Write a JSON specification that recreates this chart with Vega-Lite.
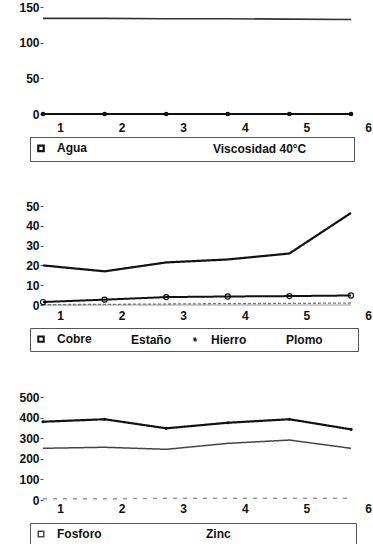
{
  "$schema": "https://vega.github.io/schema/vega-lite/v6.json",
  "background": "white",
  "padding": {"top": 1, "left": 18, "right": 0, "bottom": 0},
  "datasets": {
    "p1": [
      {"muestra": 1, "serie": "Agua", "valor": 0},
      {"muestra": 2, "serie": "Agua", "valor": 0},
      {"muestra": 3, "serie": "Agua", "valor": 0},
      {"muestra": 4, "serie": "Agua", "valor": 0},
      {"muestra": 5, "serie": "Agua", "valor": 0},
      {"muestra": 6, "serie": "Agua", "valor": 0},
      {"muestra": 1, "serie": "Viscosidad 40°C", "valor": 134},
      {"muestra": 2, "serie": "Viscosidad 40°C", "valor": 134},
      {"muestra": 3, "serie": "Viscosidad 40°C", "valor": 133.5},
      {"muestra": 4, "serie": "Viscosidad 40°C", "valor": 133.5},
      {"muestra": 5, "serie": "Viscosidad 40°C", "valor": 133},
      {"muestra": 6, "serie": "Viscosidad 40°C", "valor": 132.5}
    ],
    "p2": [
      {"muestra": 1, "serie": "Cobre", "valor": 1.5},
      {"muestra": 2, "serie": "Cobre", "valor": 2.7},
      {"muestra": 3, "serie": "Cobre", "valor": 4.0},
      {"muestra": 4, "serie": "Cobre", "valor": 4.3},
      {"muestra": 5, "serie": "Cobre", "valor": 4.5},
      {"muestra": 6, "serie": "Cobre", "valor": 4.8},
      {"muestra": 1, "serie": "Estaño", "valor": 0},
      {"muestra": 2, "serie": "Estaño", "valor": 0},
      {"muestra": 3, "serie": "Estaño", "valor": 0},
      {"muestra": 4, "serie": "Estaño", "valor": 0},
      {"muestra": 5, "serie": "Estaño", "valor": 0},
      {"muestra": 6, "serie": "Estaño", "valor": 0},
      {"muestra": 1, "serie": "Hierro", "valor": 0.2},
      {"muestra": 2, "serie": "Hierro", "valor": 0.3},
      {"muestra": 3, "serie": "Hierro", "valor": 0.5},
      {"muestra": 4, "serie": "Hierro", "valor": 0.7},
      {"muestra": 5, "serie": "Hierro", "valor": 0.8},
      {"muestra": 6, "serie": "Hierro", "valor": 1.0},
      {"muestra": 1, "serie": "Plomo", "valor": 20},
      {"muestra": 2, "serie": "Plomo", "valor": 17},
      {"muestra": 3, "serie": "Plomo", "valor": 21.5},
      {"muestra": 4, "serie": "Plomo", "valor": 23},
      {"muestra": 5, "serie": "Plomo", "valor": 26},
      {"muestra": 6, "serie": "Plomo", "valor": 46.5}
    ],
    "p3": [
      {"muestra": 1, "serie": "Zinc", "valor": 380},
      {"muestra": 2, "serie": "Zinc", "valor": 392},
      {"muestra": 3, "serie": "Zinc", "valor": 348},
      {"muestra": 4, "serie": "Zinc", "valor": 375},
      {"muestra": 5, "serie": "Zinc", "valor": 392},
      {"muestra": 6, "serie": "Zinc", "valor": 343},
      {"muestra": 1, "serie": "Fosforo", "valor": 251},
      {"muestra": 2, "serie": "Fosforo", "valor": 256},
      {"muestra": 3, "serie": "Fosforo", "valor": 246},
      {"muestra": 4, "serie": "Fosforo", "valor": 275},
      {"muestra": 5, "serie": "Fosforo", "valor": 291},
      {"muestra": 6, "serie": "Fosforo", "valor": 251},
      {"muestra": 1, "serie": "Otros", "valor": 6},
      {"muestra": 2, "serie": "Otros", "valor": 6},
      {"muestra": 3, "serie": "Otros", "valor": 8},
      {"muestra": 4, "serie": "Otros", "valor": 8},
      {"muestra": 5, "serie": "Otros", "valor": 8},
      {"muestra": 6, "serie": "Otros", "valor": 8}
    ]
  },
  "spacing": 92,
  "bounds": "flush",
  "resolve": {
    "scale": {"x": "independent", "y": "independent", "color": "independent", "strokeWidth": "independent", "strokeDash": "independent"},
    "legend": {"color": "independent"}
  },
  "vconcat": [
    {
      "width": 308,
      "height": 107,
      "data": {"name": "p1"},
      "encoding": {
        "x": {"field": "muestra", "type": "quantitative", "scale": {"domain": [1, 6], "nice": false, "zero": false}, "axis": {"values": [1, 2, 3, 4, 5, 6], "format": "d", "labelPadding": 8}},
        "y": {"field": "valor", "type": "quantitative", "scale": {"domain": [0, 150], "nice": false}, "axis": {"values": [0, 50, 100, 150]}}
      },
      "layer": [
        {
          "mark": {"type": "line"},
          "encoding": {
            "color": {"field": "serie", "type": "nominal", "scale": {"domain": ["Agua", "Viscosidad 40°C"], "range": ["#111111", "#333333"]},
              "legend": {"orient": "none", "legendX": -13, "legendY": 130, "direction": "horizontal", "columnPadding": 104, "gridAlign": "each",
                "title": ".", "titleOrient": "right", "titleOpacity": 0, "titlePadding": 39,
                "encode": {"symbols": {"update": {"opacity": {"signal": "datum.value === 'Agua' ? 1 : 0"}}}}}},
            "strokeWidth": {"field": "serie", "type": "nominal", "scale": {"type": "ordinal", "domain": ["Agua", "Viscosidad 40°C"], "range": [2.2, 1.6]}, "legend": null}
          }
        },
        {
          "transform": [{"filter": "datum.serie === 'Agua'"}],
          "mark": {"type": "point", "filled": true, "size": 22, "opacity": 1, "color": "#111111"}
        }
      ]
    },
    {
      "width": 308,
      "height": 99,
      "data": {"name": "p2"},
      "encoding": {
        "x": {"field": "muestra", "type": "quantitative", "scale": {"domain": [1, 6], "nice": false, "zero": false}, "axis": {"values": [1, 2, 3, 4, 5, 6], "format": "d", "labelPadding": 5}},
        "y": {"field": "valor", "type": "quantitative", "scale": {"domain": [0, 50], "nice": false}, "axis": {"values": [0, 10, 20, 30, 40, 50]}}
      },
      "layer": [
        {
          "mark": {"type": "line"},
          "encoding": {
            "color": {"field": "serie", "type": "nominal", "scale": {"domain": ["Cobre", "Estaño", "Hierro", "Plomo"], "range": ["#111111", "#999999", "#777777", "#111111"]},
              "legend": {"orient": "none", "legendX": -13, "legendY": 122, "direction": "horizontal", "columnPadding": 17, "gridAlign": "each",
                "title": ".", "titleOrient": "right", "titleOpacity": 0, "titlePadding": 26,
                "encode": {"symbols": {"update": {
                  "opacity": {"signal": "datum.value === 'Cobre' || datum.value === 'Hierro' ? 1 : 0"},
                  "shape": {"signal": "datum.value === 'Hierro' ? 'circle' : 'square'"},
                  "fill": {"signal": "datum.value === 'Hierro' ? '#111111' : 'transparent'"},
                  "stroke": {"value": "#111111"},
                  "size": {"signal": "datum.value === 'Hierro' ? 12 : 30"}
                }}}}},
            "strokeWidth": {"field": "serie", "type": "nominal", "scale": {"type": "ordinal", "domain": ["Cobre", "Estaño", "Hierro", "Plomo"], "range": [2, 1, 1.3, 2.2]}, "legend": null},
            "strokeDash": {"field": "serie", "type": "nominal", "scale": {"domain": ["Cobre", "Estaño", "Hierro", "Plomo"], "range": [[1, 0], [1, 0], [3, 2], [1, 0]]}, "legend": null}
          }
        },
        {
          "transform": [{"filter": "datum.serie === 'Cobre'"}],
          "mark": {"type": "point", "filled": false, "size": 26, "strokeWidth": 1.2, "opacity": 1, "color": "#111111"}
        }
      ]
    },
    {
      "width": 308,
      "height": 103,
      "data": {"name": "p3"},
      "encoding": {
        "x": {"field": "muestra", "type": "quantitative", "scale": {"domain": [1, 6], "nice": false, "zero": false}, "axis": {"values": [1, 2, 3, 4, 5, 6], "format": "d", "labelPadding": 3}},
        "y": {"field": "valor", "type": "quantitative", "scale": {"domain": [0, 500], "nice": false}, "axis": {"values": [0, 100, 200, 300, 400, 500]}}
      },
      "layer": [
        {
          "mark": {"type": "line"},
          "encoding": {
            "color": {"field": "serie", "type": "nominal", "scale": {"domain": ["Fosforo", "Zinc", "Otros"], "range": ["#444444", "#111111", "#999999"]},
              "legend": {"orient": "none", "legendX": -13, "legendY": 126, "direction": "horizontal", "columnPadding": 82, "gridAlign": "each", "values": ["Fosforo", "Zinc"],
                "title": ".", "titleOrient": "right", "titleOpacity": 0, "titlePadding": 116,
                "encode": {"symbols": {"update": {"opacity": {"signal": "datum.value === 'Fosforo' ? 1 : 0"}}}}}},
            "strokeWidth": {"field": "serie", "type": "nominal", "scale": {"type": "ordinal", "domain": ["Fosforo", "Zinc", "Otros"], "range": [1.5, 2.2, 1.5]}, "legend": null},
            "strokeDash": {"field": "serie", "type": "nominal", "scale": {"domain": ["Fosforo", "Zinc", "Otros"], "range": [[1, 0], [1, 0], [4, 6]]}, "legend": null}
          }
        },
        {
          "transform": [{"filter": "datum.serie === 'Zinc'"}],
          "mark": {"type": "point", "filled": true, "size": 10, "opacity": 1, "color": "#111111"}
        }
      ]
    }
  ],
  "config": {
    "font": "Liberation Sans",
    "view": {"stroke": null},
    "axis": {"labelFont": "Liberation Sans", "labelFontSize": 12, "labelFontWeight": "bold", "labelColor": "#111111", "grid": false, "title": null, "labelOverlap": false, "labelFlush": false},
    "axisX": {"domain": false, "ticks": false, "labelOffset": 17},
    "axisY": {"domain": false, "ticks": true, "tickSize": 3, "tickColor": "#555555", "labelPadding": 1},
    "legend": {"labelFont": "Liberation Sans", "labelFontSize": 12, "labelFontWeight": "bold", "labelColor": "#111111", "strokeColor": "#555555", "padding": 5, "symbolType": "square", "symbolSize": 30, "symbolStrokeWidth": 1.2, "symbolStrokeColor": "#111111", "symbolFillColor": "transparent", "labelOffset": 10, "titleFontSize": 12}
  }
}
